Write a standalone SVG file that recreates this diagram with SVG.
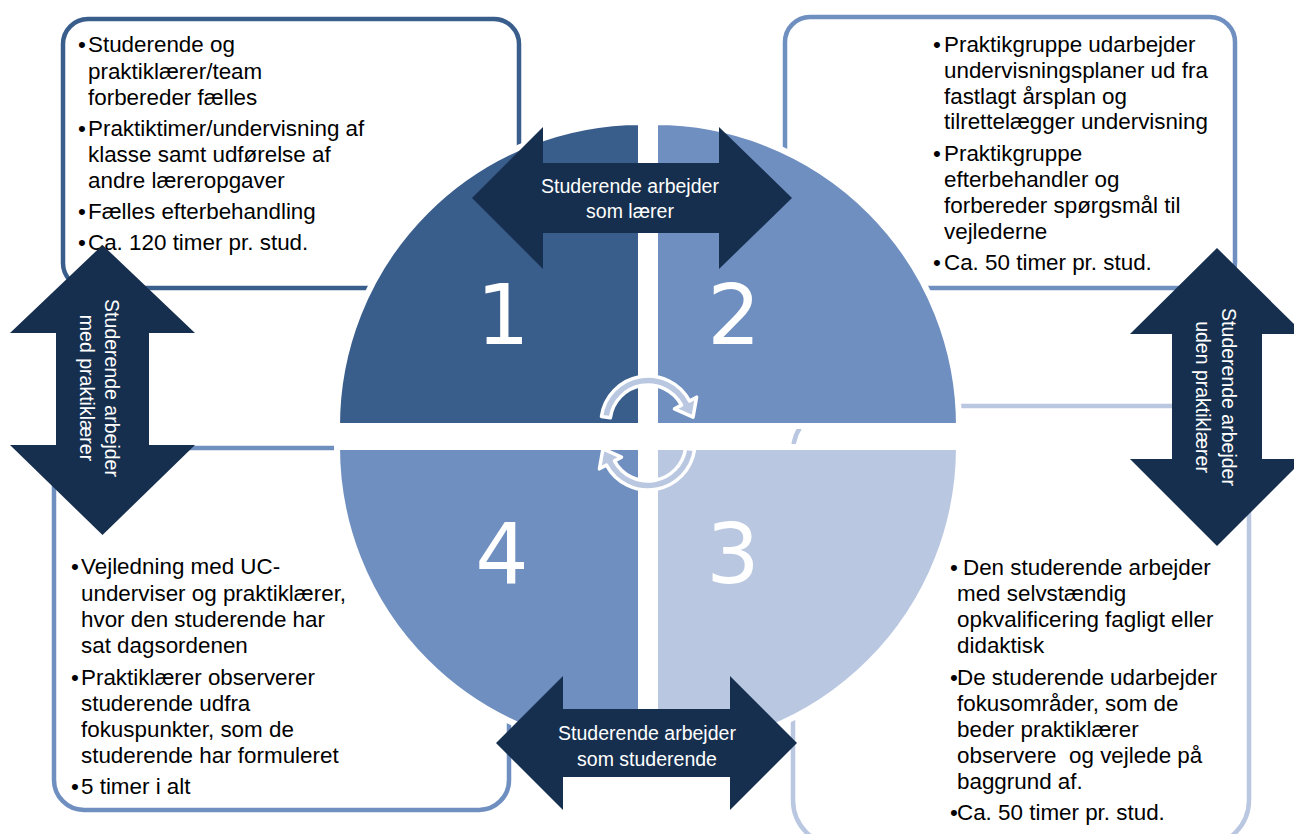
<svg xmlns="http://www.w3.org/2000/svg" width="1294" height="834" viewBox="0 0 1294 834">
<style>
.box{fill:#fff;stroke-width:4.5}
.t{font-family:"Liberation Sans",Arial,sans-serif;font-size:22.4px;fill:#000}
.q{stroke:#fff;stroke-width:6}
.num{font-family:"DejaVu Sans",sans-serif;font-size:84px;fill:#fff;text-anchor:middle}
.arr{fill:#172F4E}
.lbl{font-family:"Liberation Sans",Arial,sans-serif;font-size:19.5px;fill:#fff;text-anchor:middle}
.cyc{fill:#B9C7E0;stroke:#fff;stroke-width:3.5;stroke-linejoin:round}
</style>
<rect width="1294" height="834" fill="#fff"/>

<g id="box1">
<rect class="box" x="63" y="19" width="456" height="269" rx="25" stroke="#3A5E8C"/>
<text class="t">
<tspan x="78" y="52">•</tspan><tspan x="88" y="52">Studerende og</tspan>
<tspan x="88" y="79">praktiklærer/team</tspan>
<tspan x="88" y="105">forbereder fælles</tspan>
<tspan x="78" y="136">•</tspan><tspan x="88" y="136">Praktiktimer/undervisning af</tspan>
<tspan x="88" y="162">klasse samt udførelse af</tspan>
<tspan x="88" y="188">andre læreropgaver</tspan>
<tspan x="78" y="219">•</tspan><tspan x="88" y="219">Fælles efterbehandling</tspan>
<tspan x="78" y="250">•</tspan><tspan x="88" y="250">Ca. 120 timer pr. stud.</tspan>
</text>
</g>

<g id="box2">
<rect class="box" x="785" y="17" width="450" height="271" rx="25" stroke="#6F8FC0"/>
<text class="t">
<tspan x="933" y="52">•</tspan><tspan x="944" y="52">Praktikgruppe udarbejder</tspan>
<tspan x="944" y="78">undervisningsplaner ud fra</tspan>
<tspan x="944" y="104">fastlagt årsplan og</tspan>
<tspan x="944" y="129">tilrettelægger undervisning</tspan>
<tspan x="933" y="161">•</tspan><tspan x="944" y="161">Praktikgruppe</tspan>
<tspan x="944" y="187">efterbehandler og</tspan>
<tspan x="944" y="213">forbereder spørgsmål til</tspan>
<tspan x="944" y="239">vejlederne</tspan>
<tspan x="933" y="270">•</tspan><tspan x="944" y="270">Ca. 50 timer pr. stud.</tspan>
</text>
</g>

<g id="box3">
<rect class="box" x="793" y="406" width="456" height="440" rx="46" stroke="#B9C7E0"/>
<text class="t">
<tspan x="950" y="575">•</tspan><tspan x="963" y="575">Den studerende arbejder</tspan>
<tspan x="957" y="601">med selvstændig</tspan>
<tspan x="957" y="627">opkvalificering fagligt eller</tspan>
<tspan x="957" y="653">didaktisk</tspan>
<tspan x="950" y="685">•</tspan><tspan x="957" y="685">De studerende udarbejder</tspan>
<tspan x="957" y="711">fokusområder, som de</tspan>
<tspan x="957" y="737">beder praktiklærer</tspan>
<tspan x="957" y="789">baggrund af.</tspan>
<tspan x="950" y="820">•</tspan><tspan x="957" y="820">Ca. 50 timer pr. stud.</tspan>
</text>
<text class="t" x="957" y="763" xml:space="preserve">observere  og vejlede på</text>
</g>

<g id="box4">
<rect class="box" x="54" y="448" width="455" height="362" rx="30" stroke="#6F8FC0"/>
<text class="t">
<tspan x="71" y="574">•</tspan><tspan x="81" y="574">Vejledning med UC-</tspan>
<tspan x="81" y="601">underviser og praktiklærer,</tspan>
<tspan x="81" y="627">hvor den studerende har</tspan>
<tspan x="81" y="653">sat dagsordenen</tspan>
<tspan x="71" y="685">•</tspan><tspan x="81" y="685">Praktiklærer observerer</tspan>
<tspan x="81" y="711">studerende udfra</tspan>
<tspan x="81" y="737">fokuspunkter, som de</tspan>
<tspan x="81" y="763">studerende har formuleret</tspan>
<tspan x="71" y="794">•</tspan><tspan x="81" y="794">5 timer i alt</tspan>
</text>
</g>

<g id="quadrant1">
<path class="q" fill="#3A5E8C" d="M641,426 L641,122 A304,304 0 0 0 337,426 Z"/>
<text class="num" x="503" y="344">1</text>
</g>
<g id="quadrant2">
<path class="q" fill="#6F8FC0" d="M655,426 L655,122 A304,304 0 0 1 959,426 Z"/>
<text class="num" x="734" y="344">2</text>
</g>
<g id="quadrant3">
<path class="q" fill="#B9C7E0" d="M655,447 L959,447 A304,304 0 0 1 655,751 Z"/>
<text class="num" x="733" y="583">3</text>
</g>
<g id="quadrant4">
<path class="q" fill="#6F8FC0" d="M641,447 L641,751 A304,304 0 0 1 337,447 Z"/>
<text class="num" x="502" y="583">4</text>
</g>

<g id="cycle">
<path class="cyc" d="M601.46,416.46 A47,47 0 0 1 689.50,400.93 L696.56,397.18 L693.03,417.18 L674.49,408.91 L681.55,405.16 A38,38 0 0 0 610.37,417.71 Z"/>
<path class="cyc" transform="rotate(180 648 433)" d="M601.46,416.46 A47,47 0 0 1 689.50,400.93 L696.56,397.18 L693.03,417.18 L674.49,408.91 L681.55,405.16 A38,38 0 0 0 610.37,417.71 Z"/>
</g>

<g id="connectors">
<g id="arrow-top">
<polygon class="arr" points="472,198 543,127 543,163 719,163 719,127 792,198 719,269 719,233 543,233 543,269"/>
<text class="lbl"><tspan x="630" y="193">Studerende arbejder</tspan><tspan x="630" y="218">som lærer</tspan></text>
</g>
<g id="arrow-bottom">
<polygon class="arr" points="496,743 563,676 563,709 730,709 730,676 797,743 730,810 730,777 563,777 563,810"/>
<text class="lbl"><tspan x="647" y="740">Studerende arbejder</tspan><tspan x="647" y="766">som studerende</tspan></text>
</g>
<g id="arrow-left">
<polygon class="arr" points="102.5,245 195,333 149,333 149,445 195,445 102.5,535 10,445 56,445 56,333 10,333"/>
<text class="lbl" transform="translate(105,388) rotate(90)"><tspan x="0" y="0">Studerende arbejder</tspan><tspan x="0" y="25">med praktiklærer</tspan></text>
</g>
<g id="arrow-right">
<polygon class="arr" points="1217,248 1304,334 1262,334 1262,459 1304,459 1217,546 1130,459 1172,459 1172,334 1130,334"/>
<text class="lbl" transform="translate(1222,397) rotate(90)"><tspan x="0" y="0">Studerende arbejder</tspan><tspan x="0" y="26">uden praktiklærer</tspan></text>
</g>
</g>
</svg>
